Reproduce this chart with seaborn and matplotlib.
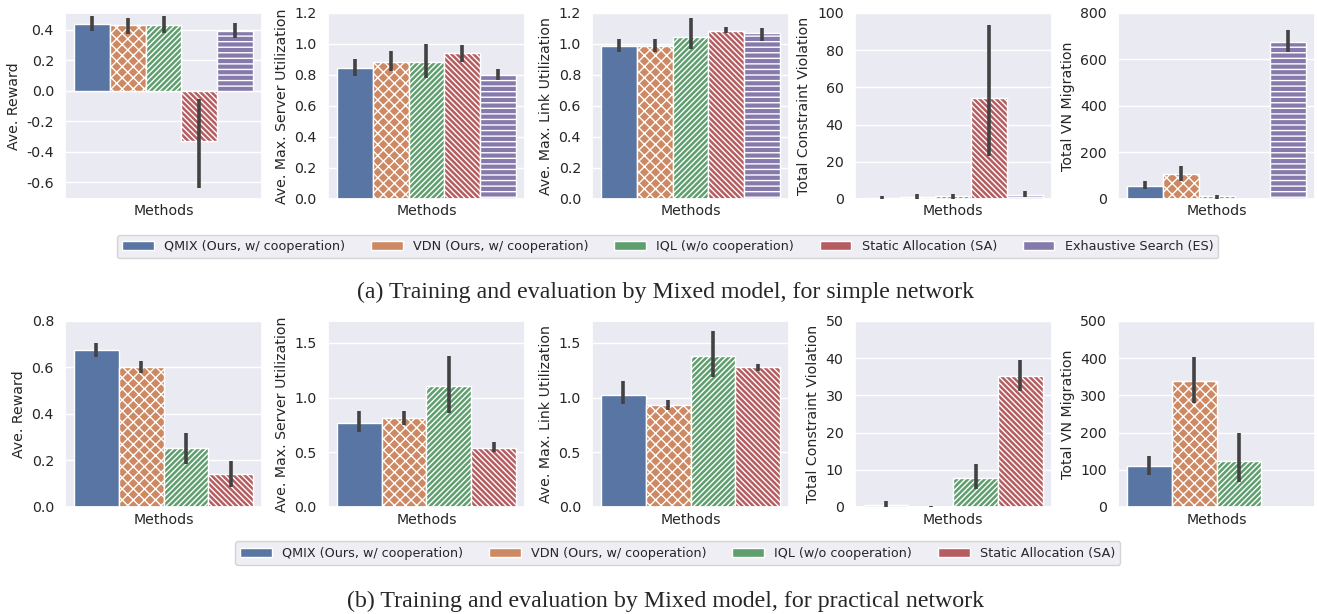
import matplotlib
matplotlib.use("Agg")
import matplotlib.pyplot as plt
import matplotlib.patches as mpatches
import seaborn as sns
import pandas as pd

# ---------------- data ----------------
methods_a = ["QMIX (Ours, w/ cooperation)", "VDN (Ours, w/ cooperation)",
             "IQL (w/o cooperation)", "Static Allocation (SA)", "Exhaustive Search (ES)"]
methods_b = methods_a[:4]

ylabels = ["Ave. Reward", "Ave. Max. Server Utilization", "Ave. Max. Link Utilization",
           "Total Constraint Violation", "Total VN Migration"]

# (a) simple network
reward_a = [0.437, 0.428, 0.430, -0.328, 0.391]
reward_a_lo = [0.391, 0.372, 0.380, -0.641, 0.348]
reward_a_hi = [0.489, 0.474, 0.489, -0.052, 0.446]
server_a = [0.844, 0.881, 0.881, 0.941, 0.799]
server_a_lo = [0.794, 0.822, 0.779, 0.881, 0.766]
server_a_hi = [0.902, 0.956, 0.999, 0.993, 0.835]
link_a = [0.988, 0.988, 1.047, 1.086, 1.071]
link_a_lo = [0.950, 0.945, 0.967, 1.068, 1.021]
link_a_hi = [1.032, 1.032, 1.165, 1.107, 1.103]
viol_a = [0.6, 1.0, 1.4, 54.0, 2.3]
viol_a_lo = [0.0, 0.2, 0.2, 23.0, 1.1]
viol_a_hi = [1.7, 2.5, 2.7, 93.5, 4.5]
mig_a = [57.6, 109.0, 11.5, 0.0, 673.0]
mig_a_lo = [43.0, 79.0, 1.4, 0.0, 633.0]
mig_a_hi = [76.0, 141.0, 18.7, 1.0, 727.0]

# (b) practical network
reward_b = [0.677, 0.602, 0.255, 0.141]
reward_b_lo = [0.646, 0.574, 0.184, 0.086]
reward_b_hi = [0.703, 0.627, 0.317, 0.197]
server_b = [0.765, 0.811, 1.102, 0.542]
server_b_lo = [0.683, 0.750, 0.857, 0.505]
server_b_hi = [0.873, 0.879, 1.378, 0.591]
link_b = [1.020, 0.928, 1.378, 1.280]
link_b_lo = [0.943, 0.888, 1.185, 1.240]
link_b_hi = [1.148, 0.980, 1.607, 1.311]
viol_b = [0.5, 0.0, 7.66, 35.1]
viol_b_lo = [0.0, 0.0, 4.95, 31.3]
viol_b_hi = [1.5, 0.2, 11.5, 39.4]
mig_b = [110.0, 338.0, 124.0, 0.0]
mig_b_lo = [86.0, 279.0, 68.0, 0.0]
mig_b_hi = [137.0, 403.0, 198.0, 1.0]

caption_a = "(a) Training and evaluation by Mixed model, for simple network"
caption_b = "(b) Training and evaluation by Mixed model, for practical network"

# ---------------- style ----------------
sns.set_theme(style="darkgrid")
plt.rcParams["font.family"] = ["DejaVu Sans"]
plt.rcParams["hatch.color"] = "white"
plt.rcParams["hatch.linewidth"] = 1.0
plt.rcParams["axes.unicode_minus"] = False

palette = sns.color_palette("deep", 5)
hatches = ["", "xxx", "//////", "\\\\\\\\\\\\", "---"]

fig = plt.figure(figsize=(13.17, 6.14), dpi=100)

lefts = [0.0494, 0.249, 0.4495, 0.649, 0.849]
width = 0.1496
height = 0.303
row_y = [0.676, 0.1743]

rows = [
    (methods_a, [(reward_a, reward_a_lo, reward_a_hi), (server_a, server_a_lo, server_a_hi),
                 (link_a, link_a_lo, link_a_hi), (viol_a, viol_a_lo, viol_a_hi),
                 (mig_a, mig_a_lo, mig_a_hi)],
     [(-0.71, 0.51), (0, 1.2), (0, 1.2), (0, 100), (0, 800)],
     [[-0.6, -0.4, -0.2, 0.0, 0.2, 0.4], [0, 0.2, 0.4, 0.6, 0.8, 1.0, 1.2],
      [0, 0.2, 0.4, 0.6, 0.8, 1.0, 1.2], [0, 20, 40, 60, 80, 100], [0, 200, 400, 600, 800]]),
    (methods_b, [(reward_b, reward_b_lo, reward_b_hi), (server_b, server_b_lo, server_b_hi),
                 (link_b, link_b_lo, link_b_hi), (viol_b, viol_b_lo, viol_b_hi),
                 (mig_b, mig_b_lo, mig_b_hi)],
     [(0, 0.8), (0, 1.7), (0, 1.7), (0, 50), (0, 500)],
     [[0, 0.2, 0.4, 0.6, 0.8], [0, 0.5, 1.0, 1.5], [0, 0.5, 1.0, 1.5],
      [0, 10, 20, 30, 40, 50], [0, 100, 200, 300, 400, 500]]),
]

for r, (methods, panels, ylims, yticks) in enumerate(rows):
    for c, (vals, lo, hi) in enumerate(panels):
        ax = fig.add_axes([lefts[c], row_y[r], width, height])
        df = pd.DataFrame({"x": [""] * len(methods), "Method": methods, "val": vals})
        sns.barplot(data=df, x="x", y="val", hue="Method", hue_order=methods,
                    palette=palette[:len(methods)], errorbar=None, legend=False,
                    edgecolor="white", linewidth=1.0, ax=ax)
        for i, cont in enumerate(ax.containers):
            for bar in cont:
                bar.set_hatch(hatches[i])
                cx = bar.get_x() + bar.get_width() / 2
                ax.vlines(cx, lo[i], hi[i], color=".26", linewidth=2.6, zorder=5)
        ax.set_ylim(*ylims[c])
        ax.set_yticks(yticks[c])
        ax.set_xlabel("Methods", fontsize=10.2)
        ax.set_ylabel(ylabels[c], fontsize=10.2)
        ax.tick_params(axis="both", labelsize=10.2, pad=2)
        ax.set_xticks([])

    sat = sns.color_palette(palette[:len(methods)], desat=0.75)
    handles = [mpatches.Patch(facecolor=sat[i], edgecolor="white", label=m)
               for i, m in enumerate(methods)]
    ly = 0.598 if r == 0 else 0.0993
    lx = 0.507 if r == 0 else 0.5145
    fig.legend(handles=handles, loc="center", bbox_to_anchor=(lx, ly), ncol=len(methods),
               fontsize=9.2, handlelength=2.5, columnspacing=2.0, frameon=True)

fig.text(0.505, 0.523, caption_a, ha="center", va="center",
         family="Liberation Serif", fontsize=17.2)
fig.text(0.505, 0.021, caption_b, ha="center", va="center",
         family="Liberation Serif", fontsize=17.2)

fig.savefig("out.png", dpi=100)
